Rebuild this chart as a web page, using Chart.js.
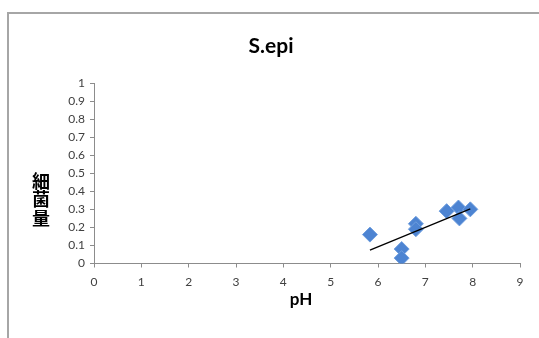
<!DOCTYPE html>
<html>
<head>
<meta charset="utf-8">
<script src="https://cdn.jsdelivr.net/npm/chart.js@4"></script>
<style>
  html, body { margin: 0; padding: 0; background: #fff; }
  #wrap { width: 539px; height: 338px; position: relative; }
</style>
</head>
<body>
<div id="wrap"><canvas id="c" width="539" height="338"></canvas></div>
<script>
// Measurements: pH against bacterial amount
const phValues = [5.83, 6.5, 6.5, 6.8, 6.8, 7.45, 7.7, 7.72, 7.95];
const bacteriaAmount = [0.16, 0.08, 0.03, 0.22, 0.19, 0.29, 0.31, 0.25, 0.30];

const chartTitle = 'S.epi';
const xTitle = 'pH';
const yTitleChars = ['細', '菌', '量'];

const xTicks = [0, 1, 2, 3, 4, 5, 6, 7, 8, 9];
const yTicks = [0, 0.1, 0.2, 0.3, 0.4, 0.5, 0.6, 0.7, 0.8, 0.9, 1];

// Least-squares linear trend line over the measured range
function linearTrend(xs, ys) {
  const n = xs.length;
  const mx = xs.reduce((a, b) => a + b, 0) / n;
  const my = ys.reduce((a, b) => a + b, 0) / n;
  let sxy = 0, sxx = 0;
  for (let i = 0; i < n; i++) {
    sxy += (xs[i] - mx) * (ys[i] - my);
    sxx += (xs[i] - mx) * (xs[i] - mx);
  }
  const slope = sxy / sxx;
  const icpt = my - slope * mx;
  const x0 = Math.min(...xs), x1 = Math.max(...xs);
  return [{ x: x0, y: icpt + slope * x0 }, { x: x1, y: icpt + slope * x1 }];
}

const points = phValues.map((x, i) => ({ x, y: bacteriaAmount[i] }));
const trend = linearTrend(phValues, bacteriaAmount);

const FONT = 'Lato, "Noto Sans", sans-serif';

// Frame, title and axis titles drawn around the plot area
const decorations = {
  id: 'decorations',
  beforeDraw(chart) {
    const ctx = chart.ctx;
    ctx.save();
    ctx.strokeStyle = '#a6a6a6';
    ctx.lineWidth = 2;
    ctx.strokeRect(8, 13, 560, 360);
    ctx.restore();
  },
  afterDraw(chart) {
    const ctx = chart.ctx;
    ctx.save();
    ctx.fillStyle = '#000';
    ctx.textAlign = 'center';
    ctx.textBaseline = 'middle';
    ctx.font = 'bold 21px ' + FONT;
    ctx.fillText(chartTitle, 271, 46);
    ctx.font = 'bold 17px ' + FONT;
    ctx.fillText(xTitle, 301, 300);
    ctx.font = 'bold 18px "Noto Sans CJK JP", sans-serif';
    yTitleChars.forEach((ch, i) => ctx.fillText(ch, 41, 181 + i * 18.5));
    ctx.restore();
  }
};

const fmt = v => String(+Number(v).toFixed(1));

new Chart(document.getElementById('c'), {
  data: {
    datasets: [
      {
        type: 'line',
        data: trend,
        borderColor: '#000',
        borderWidth: 1.3,
        pointRadius: 0,
        fill: false,
        order: 0
      },
      {
        type: 'scatter',
        data: points,
        pointStyle: 'rectRot',
        pointRadius: 7.5,
        backgroundColor: '#4d84d2',
        borderColor: '#6f9ede',
        borderWidth: 1,
        order: 1
      }
    ]
  },
  plugins: [decorations],
  options: {
    responsive: false,
    animation: false,
    events: [],
    layout: { padding: { left: 0, right: 19, top: 83, bottom: 0 } },
    plugins: { legend: { display: false }, tooltip: { enabled: false }, title: { display: false } },
    scales: {
      x: {
        type: 'linear',
        min: 0, max: 9,
        afterBuildTicks(scale) { scale.ticks = xTicks.map(v => ({ value: v })); },
        afterFit(scale) { scale.height = 74.5; },
        grid: { drawOnChartArea: false, drawTicks: true, tickLength: 4, tickColor: '#8c8c8c' },
        border: { display: true, color: '#8c8c8c', width: 1 },
        ticks: { color: '#404040', font: { family: FONT, size: 12 }, padding: 7, maxRotation: 0, callback: fmt }
      },
      y: {
        type: 'linear',
        min: 0, max: 1,
        afterBuildTicks(scale) { scale.ticks = yTicks.map(v => ({ value: v })); },
        afterFit(scale) { scale.width = 94; },
        grid: { drawOnChartArea: false, drawTicks: true, tickLength: 4, tickColor: '#8c8c8c' },
        border: { display: true, color: '#8c8c8c', width: 1 },
        ticks: { color: '#404040', font: { family: FONT, size: 12 }, padding: 5, callback: fmt }
      }
    }
  }
});
</script>
</body>
</html>
